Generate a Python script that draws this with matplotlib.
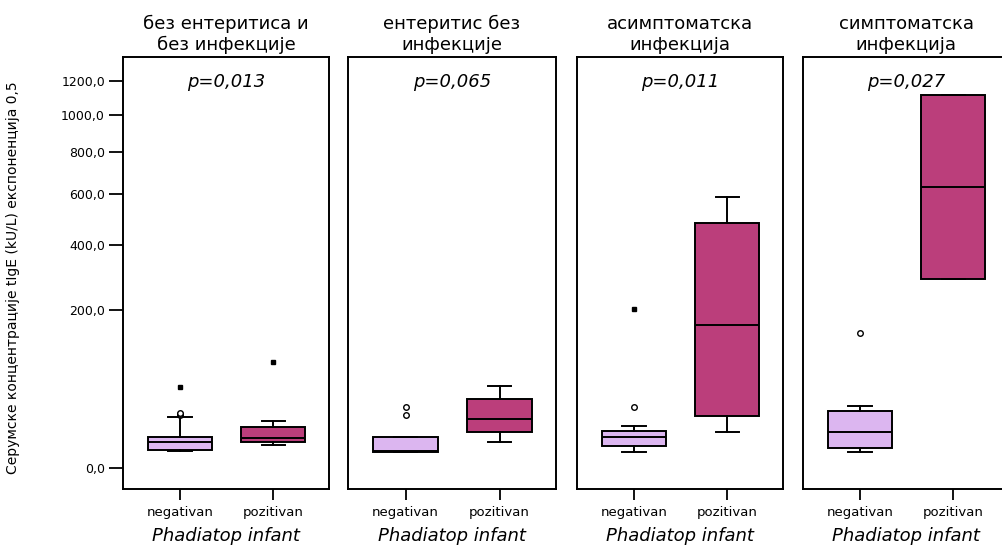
import numpy as np
import matplotlib
matplotlib.use("Agg")
import matplotlib.pyplot as plt

# data (kU/L)
groups = ["без ентеритиса и\nбез инфекције", "ентеритис без\nинфекције",
          "асимптоматска\nинфекција", "симптоматска\nинфекција"]
p_values = ["p=0,013", "p=0,065", "p=0,011", "p=0,027"]
categories = ["negativan", "pozitivan"]

neg_q1 = [2.7, 2.1, 4.0, 3.3]
neg_med = [5.5, 2.2, 7.9, 10.6]
neg_q3 = [7.6, 7.9, 11.0, 26.0]
neg_whislo = [2.2, 2.1, 2.1, 2.1]
neg_whishi = [20.6, 7.9, 14.3, 31.1]
neg_outliers = [[22.5, 23.5, 24.5], [22.5, 29.8], [29.8], [146]]
neg_extremes = [[52], [], [202], []]

pos_q1 = [5.4, 10.6, 21.9, 285]
pos_med = [7.4, 19.2, 164, 632]
pos_q3 = [13.3, 38.2, 482, 1115]
pos_whislo = [4.1, 5.5, 10.6, 285]
pos_whishi = [17.5, 54.3, 590, 1115]
pos_outliers = [[], [], [], []]
pos_extremes = [[89.5], [], [], []]

yticks = [0, 200, 400, 600, 800, 1000, 1200]
ylabel = "Серумске концентрације tIgE (kU/L) експоненција 0,5"
xlabel = "Phadiatop infant"

neg_color = "#dcb6f0"
pos_color = "#bb3e7b"


def fwd(v):
    v = np.asarray(v, dtype=float)
    return np.sign(v) * np.sqrt(np.abs(v))


def inv(v):
    v = np.asarray(v, dtype=float)
    return np.sign(v) * v ** 2


plt.rcParams["font.family"] = ["DejaVu Sans"]
fig = plt.figure(figsize=(10.02, 5.51), dpi=100)

lefts = [123, 348, 577, 803]
widths = [206, 208, 206, 206]
bottom = 1 - 489 / 551
height = (489 - 57) / 551

for i in range(4):
    ax = fig.add_axes([lefts[i] / 1002, bottom, widths[i] / 1002, height])
    ax.set_yscale("function", functions=(fwd, inv))

    stats = [
        dict(med=neg_med[i], q1=neg_q1[i], q3=neg_q3[i],
             whislo=neg_whislo[i], whishi=neg_whishi[i], fliers=neg_outliers[i]),
        dict(med=pos_med[i], q1=pos_q1[i], q3=pos_q3[i],
             whislo=pos_whislo[i], whishi=pos_whishi[i], fliers=pos_outliers[i]),
    ]
    bp = ax.bxp(stats, positions=[1, 2], widths=0.69, capwidths=0.25,
                patch_artist=True, showfliers=True,
                boxprops=dict(linewidth=1.4, edgecolor="black"),
                medianprops=dict(color="black", linewidth=1.4),
                whiskerprops=dict(color="black", linewidth=1.4),
                capprops=dict(color="black", linewidth=1.4),
                flierprops=dict(marker="o", markersize=4, markerfacecolor="white",
                                markeredgecolor="black", markeredgewidth=1.0))
    bp["boxes"][0].set_facecolor(neg_color)
    bp["boxes"][1].set_facecolor(pos_color)

    for pos, ext in ((1, neg_extremes[i]), (2, pos_extremes[i])):
        if ext:
            ax.plot([pos] * len(ext), ext, linestyle="none", marker="s",
                    markersize=2.5, color="black")

    ax.set_xlim(0.387, 2.6)
    ax.set_ylim(-3.53, 1354)
    ax.set_xticks([1, 2])
    ax.set_xticklabels(categories, fontsize=9.5)
    ax.tick_params(axis="x", length=8, width=1.3, pad=4)
    if i == 0:
        ax.set_yticks(yticks)
        ax.set_yticklabels([f"{v:.1f}".replace(".", ",") for v in yticks], fontsize=9)
        ax.tick_params(axis="y", length=10, width=1.3, pad=3)
        ax.set_ylabel(ylabel, fontsize=10, labelpad=24)
        ax.yaxis.set_label_coords(-0.5, 0.49)
    else:
        ax.set_yticks([])
    ax.yaxis.set_minor_locator(matplotlib.ticker.NullLocator())
    for s in ax.spines.values():
        s.set_linewidth(1.4)

    ax.set_title(groups[i], fontsize=13, linespacing=1.2, pad=5)
    ax.text(0.5, 0.942, p_values[i], transform=ax.transAxes, ha="center",
            va="center", fontsize=13, style="italic")
    ax.set_xlabel(xlabel, fontsize=13, style="italic", labelpad=6)

fig.savefig("out.png", dpi=100)
